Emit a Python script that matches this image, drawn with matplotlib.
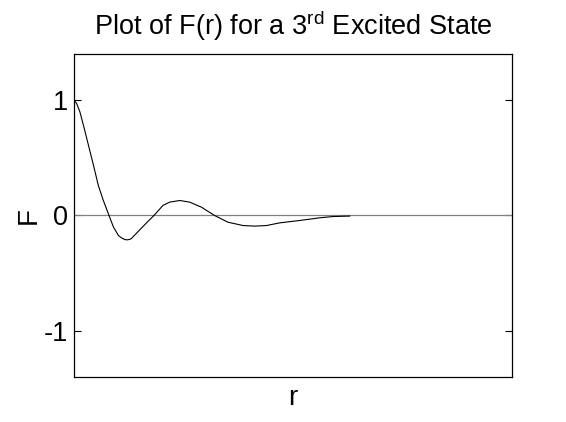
import numpy as np
import matplotlib
matplotlib.use("Agg")
import matplotlib.pyplot as plt

plt.rcParams['font.family'] = ['Liberation Sans', 'DejaVu Sans']
plt.rcParams['mathtext.fontset'] = 'custom'
plt.rcParams['mathtext.rm'] = 'Liberation Sans'
plt.rcParams['mathtext.it'] = 'Liberation Sans'

# values
r = [0.0, 0.12, 0.27, 0.43, 0.66, 0.89, 1.11, 1.34, 1.60, 1.80, 2.03, 2.18,
     2.33, 2.45, 2.60, 2.72, 3.00, 3.31, 3.65, 4.06, 4.37, 4.83, 5.28, 5.82,
     6.42, 7.03, 7.72, 8.25, 8.79, 9.39, 10.31, 11.22, 11.83, 12.59]
F = [1.0, 0.971, 0.898, 0.783, 0.609, 0.435, 0.261, 0.130, 0.0, -0.10, -0.174, -0.195,
     -0.209, -0.211, -0.203, -0.18, -0.125, -0.064, 0.0, 0.087, 0.116, 0.13, 0.116, 0.072,
     0.0, -0.058, -0.087, -0.092, -0.087, -0.064, -0.043, -0.02, -0.009, -0.005]
yticks = [-1, 0, 1]

fig = plt.figure(figsize=(5.66, 4.22), dpi=100)
ax = fig.add_axes([74/566, 1-377/422, 438/566, 323/422])

ax.axhline(0, color='#808080', lw=0.9)
ax.plot(r, F, color='black', lw=0.8)

ax.set_xlim(0, 20)
ax.set_ylim(-1.4, 1.4)
ax.set_xticks([])
ax.set_yticks(yticks)
ax.set_yticklabels([str(t) for t in yticks])
ax.tick_params(axis='y', direction='in', length=5, width=0.8, labelsize=19.5, pad=4,
               right=True)
for s in ax.spines.values():
    s.set_linewidth(0.9)

ax.set_title(r'Plot of F(r) for a 3$^{\rm rd}$ Excited State', fontsize=19.5, pad=14)
ax.set_xlabel('r', fontsize=20, labelpad=6)
ax.set_ylabel('F', fontsize=20, labelpad=2)

fig.savefig('out.png', dpi=100)
